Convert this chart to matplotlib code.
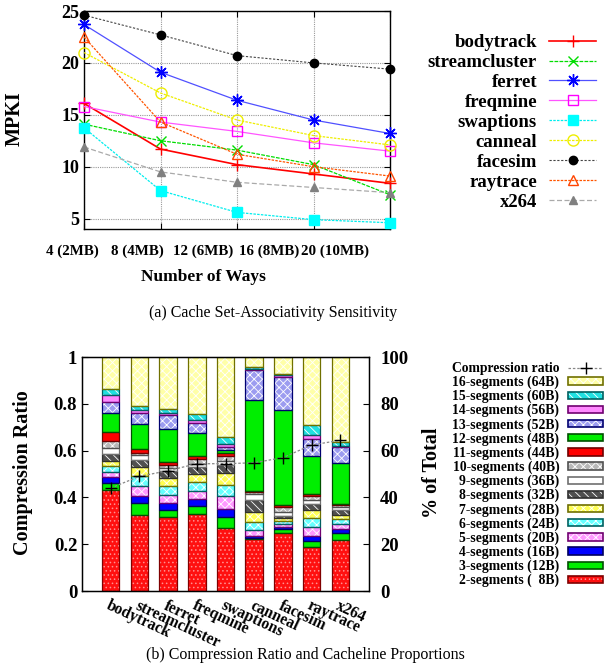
import matplotlib
matplotlib.use('Agg')
import matplotlib.pyplot as plt
import numpy as np
from matplotlib.lines import Line2D
from matplotlib.patches import Patch

plt.rcParams['font.family'] = ['Liberation Serif', 'DejaVu Serif']
plt.rcParams['hatch.linewidth'] = 0.6

# ---------------- (a) data ----------------
ways = [4, 8, 12, 16, 20]
way_labels = ['4 (2MB)', '8 (4MB)', '12 (6MB)', '16 (8MB)', '20 (10MB)']
bodytrack = [16.1, 11.7, 10.2, 9.3, 8.4]
streamcluster = [14.1, 12.5, 11.6, 10.2, 7.3]
ferret = [23.7, 19.1, 16.4, 14.5, 13.2]
freqmine = [15.8, 14.3, 13.4, 12.3, 11.5]
swaptions = [13.75, 7.7, 5.6, 4.9, 4.6]
canneal = [21.0, 17.1, 14.5, 13.0, 12.1]
facesim = [24.6, 22.7, 20.7, 20.0, 19.4]
raytrace = [22.5, 14.3, 11.2, 10.0, 9.1]
x264 = [11.9, 9.5, 8.5, 8.0, 7.5]

# ---------------- (b) data ----------------
benchmarks = ['bodytrack', 'streamcluster', 'ferret', 'freqmine', 'swaptions',
              'canneal', 'facesim', 'raytrace', 'x264']
compression_ratio = [0.44, 0.49, 0.514, 0.544, 0.544, 0.548, 0.570, 0.624, 0.644]
# share of cache lines (% of total) per segment count
seg2 = [43.2, 32.5, 31.5, 32.9, 27.1, 22.1, 24.8, 18.8, 21.9]
seg3 = [3.0, 5.2, 3.1, 3.4, 4.7, 0.7, 1.7, 2.4, 3.0]
seg4 = [2.5, 3.0, 2.9, 3.2, 3.2, 0.7, 0.9, 2.4, 1.6]
seg5 = [2.3, 4.0, 3.7, 3.4, 5.4, 2.4, 1.4, 3.8, 2.3]
seg6 = [2.4, 4.3, 3.8, 3.8, 5.0, 3.4, 1.3, 3.8, 2.1]
seg7 = [2.2, 4.0, 3.3, 3.3, 4.9, 4.4, 1.0, 3.4, 1.6]
seg8 = [2.9, 2.8, 2.8, 3.0, 3.4, 5.0, 1.1, 2.7, 2.3]
seg9 = [2.6, 2.2, 1.6, 1.4, 2.0, 2.9, 1.4, 1.7, 1.1]
seg10 = [3.0, 1.1, 1.0, 2.0, 1.9, 0.5, 2.3, 1.7, 0.7]
seg11 = [4.0, 1.6, 1.4, 1.4, 1.2, 0.5, 0.7, 0.6, 0.7]
seg12 = [8.1, 10.8, 14.0, 9.6, 1.3, 39.0, 40.9, 16.5, 17.5]
seg13 = [4.6, 4.7, 6.0, 4.4, 1.4, 12.9, 14.1, 7.2, 6.7]
seg14 = [3.0, 1.2, 1.0, 1.4, 1.3, 0.4, 0.6, 1.7, 0.5]
seg15 = [2.5, 1.8, 1.8, 2.3, 2.8, 0.8, 0.4, 4.2, 1.7]
seg16 = [13.7, 20.8, 22.1, 24.5, 34.5, 4.3, 7.4, 29.1, 36.3]
seg_labels = ['2-segments (  8B)', '3-segments (12B)', '4-segments (16B)', '5-segments (20B)',
              '6-segments (24B)', '7-segments (28B)', '8-segments (32B)', '9-segments (36B)',
              '10-segments (40B)', '11-segments (44B)', '12-segments (48B)', '13-segments (52B)',
              '14-segments (56B)', '15-segments (60B)', '16-segments (64B)']
segments = [seg2, seg3, seg4, seg5, seg6, seg7, seg8, seg9, seg10, seg11, seg12,
            seg13, seg14, seg15, seg16]

# styles: (face, hatch, hatchcolor, edge)
seg_styles = [
    ('#ff1010', '....', '#ff9090', '#800000'),
    ('#00ee00', None, None, '#005000'),
    ('#0000ff', None, None, '#000060'),
    ('#ff99ff', 'xxxx', '#ffffff', '#700070'),
    ('#66ffff', 'xxxx', '#ffffff', '#006060'),
    ('#ffff55', 'xxxx', '#ffffff', '#707000'),
    ('#505050', '\\\\\\\\', '#ffffff', '#303030'),
    ('#ffffff', None, None, '#707070'),
    ('#b8b8b8', 'xxxx', '#ffffff', '#505050'),
    ('#ff0000', None, None, '#700000'),
    ('#00ee00', None, None, '#005000'),
    ('#9c9cf0', 'xxxx', '#ffffff', '#000070'),
    ('#ff88ff', None, None, '#700070'),
    ('#20e0e0', '\\\\\\\\', '#ffffff', '#006060'),
    ('#ffffa8', 'xxxx', '#ffffff', '#707000'),
]

W, H = 607, 668
fig = plt.figure(figsize=(W / 100, H / 100), dpi=100)

bold = dict(fontweight='bold')

# ================= (a) =================
ax1 = fig.add_axes([84 / W, 1 - 229 / H, 306 / W, 218 / H])
series = [
    ('bodytrack', bodytrack, dict(color='#ff0000', ls='-', lw=1.2, marker='+', ms=8, mew=1.0)),
    ('streamcluster', streamcluster, dict(color='#00dd00', ls=(0, (3, 1)), lw=0.9, marker='x', ms=7, mew=1.0)),
    ('ferret', ferret, dict(color='#5050ff', ls='-', lw=0.9, marker=(8, 2, 0), ms=9, mew=1.0, mec='#0000ff')),
    ('freqmine', freqmine, dict(color='#ff55ff', ls='-', lw=0.9, marker='s', ms=7, mfc='none', mew=1.0, mec='#ff00ff')),
    ('swaptions', swaptions, dict(color='#00eeee', ls=(0, (2, 1)), lw=0.9, marker='s', ms=7, mfc='#00ffff', mec='#00ffff')),
    ('canneal', canneal, dict(color='#eeee00', ls=(0, (2, 1)), lw=0.9, marker='o', ms=8, mfc='none', mew=1.0, mec='#eeee00')),
    ('facesim', facesim, dict(color='#444444', ls=(0, (2, 1.5)), lw=0.8, marker='o', ms=6, mfc='black', mec='black')),
    ('raytrace', raytrace, dict(color='#ff5500', ls=(0, (2, 1)), lw=0.9, marker='^', ms=7, mfc='none', mew=1.0, mec='#ff4400')),
    ('x264', x264, dict(color='#aaaaaa', ls=(0, (4, 2)), lw=0.9, marker='^', ms=6, mfc='#808080', mec='#808080')),
]
for name, vals, st in series:
    ax1.plot(ways, vals, label=name, clip_on=False, zorder=3, **st)

ax1.set_xlim(4, 20)
ax1.set_ylim(4, 25)
ax1.set_xticks(ways)
ax1.set_xticklabels([])
ax1.set_yticks([5, 10, 15, 20, 25])
ax1.set_yticklabels(['5', '10', '15', '20', '25'], fontsize=13, **bold)
ax1.tick_params(direction='in', length=4, top=True, right=True, width=0.8)
ax1.grid(True, color='#999999', ls=(0, (1, 1)), lw=0.8)
for s in ax1.spines.values():
    s.set_linewidth(1.0)
for i, lab in enumerate(way_labels):
    ax1.text(-0.039 + 0.2148 * i, -0.102, lab, transform=ax1.transAxes,
             ha='center', va='center', fontsize=10.8, **bold)
ax1.set_ylabel('MPKI', fontsize=14.5, **bold)
ax1.yaxis.set_label_coords(-0.193, 0.505)
ax1.set_xlabel('Number of Ways', fontsize=12.5, **bold)
ax1.xaxis.set_label_coords(0.389, -0.185)

leg1 = ax1.legend(loc='upper right', bbox_to_anchor=(596 / W, 1 - 34 / H),
                  bbox_transform=fig.transFigure, frameon=False, markerfirst=False,
                  prop=dict(family='Liberation Serif', weight='bold', size=13.5),
                  handlelength=2.5, handletextpad=0.64, labelspacing=0.15,
                  borderpad=0, borderaxespad=0)

fig.text(273 / W, 1 - 313 / H, '(a) Cache Set-Associativity Sensitivity',
         ha='center', va='center', fontsize=11.5)

# ================= (b) =================
ax2 = fig.add_axes([82 / W, 1 - 591 / H, 287 / W, 234 / H])
x = np.arange(len(benchmarks))
bw = 0.61
bottom = np.zeros(len(benchmarks))
handles = []
for vals, (face, hatch, hcol, edge), lab in zip(segments, seg_styles, seg_labels):
    frac = np.array(vals) / 100.0
    if hatch:
        ax2.bar(x, frac, bw, bottom=bottom, color=face, hatch=hatch, edgecolor=hcol,
                linewidth=0, zorder=2)
    else:
        ax2.bar(x, frac, bw, bottom=bottom, color=face, linewidth=0, zorder=2)
    ax2.bar(x, frac, bw, bottom=bottom, fill=False, edgecolor=edge, linewidth=0.9, zorder=2.5)
    bottom = bottom + frac
    if hatch:
        h = (Patch(facecolor=face, hatch=hatch, edgecolor=hcol, linewidth=0),
             Patch(fill=False, edgecolor=edge, linewidth=1.2))
    else:
        h = (Patch(facecolor=face, linewidth=0),
             Patch(fill=False, edgecolor=edge, linewidth=1.2))
    handles.append((h, lab))

cr_line, = ax2.plot(x, compression_ratio, color='#888888', ls=(0, (2, 1.5)), lw=0.9,
                    marker='+', ms=8, mec='black', mew=1.0, zorder=4)

ax2.set_xlim(-1, 9)
ax2.set_ylim(0, 1)
ax2.set_yticks([0, 0.2, 0.4, 0.6, 0.8, 1.0])
ax2.set_yticklabels(['0', '0.2', '0.4', '0.6', '0.8', '1'], fontsize=13.5, **bold)
ax2.set_xticks(x)
ax2.set_xticklabels(benchmarks, rotation=-25, ha='left', va='top', rotation_mode='anchor',
                    fontsize=11.3, **bold)
ax2.tick_params(axis='x', length=0, pad=5)
ax2.tick_params(axis='y', direction='in', length=4, width=0.8)
for s in ax2.spines.values():
    s.set_linewidth(1.0)
ax2.set_ylabel('Compression Ratio', fontsize=14.5, **bold)
ax2.yaxis.set_label_coords(-0.171, 0.504)

ax3 = ax2.twinx()
ax3.set_ylim(0, 100)
ax3.set_yticks([0, 20, 40, 60, 80, 100])
ax3.set_yticklabels(['0', '20', '40', '60', '80', '100'], fontsize=13.5, **bold)
ax3.tick_params(axis='y', direction='in', length=4, width=0.8, pad=8)
ax3.set_ylabel('% of Total', fontsize=14.5, **bold)
ax3.yaxis.set_label_coords(1.184, 0.504)

leg_handles = [cr_line] + [h for h, _ in handles[::-1]]
leg_labels = ['Compression ratio'] + [l for _, l in handles[::-1]]
fig.legend(leg_handles, leg_labels, loc='upper right',
           bbox_to_anchor=(603 / W, 1 - 362 / H), frameon=False, markerfirst=False,
           prop=dict(family='Liberation Serif', weight='bold', size=9.8),
           handlelength=2.55, handleheight=0.45, handletextpad=0.65,
           labelspacing=0.05, borderpad=0, borderaxespad=0)

fig.text(305 / W, 1 - 655 / H, '(b) Compression Ratio and Cacheline Proportions',
         ha='center', va='center', fontsize=11.5)

fig.savefig('out.png', dpi=100)
